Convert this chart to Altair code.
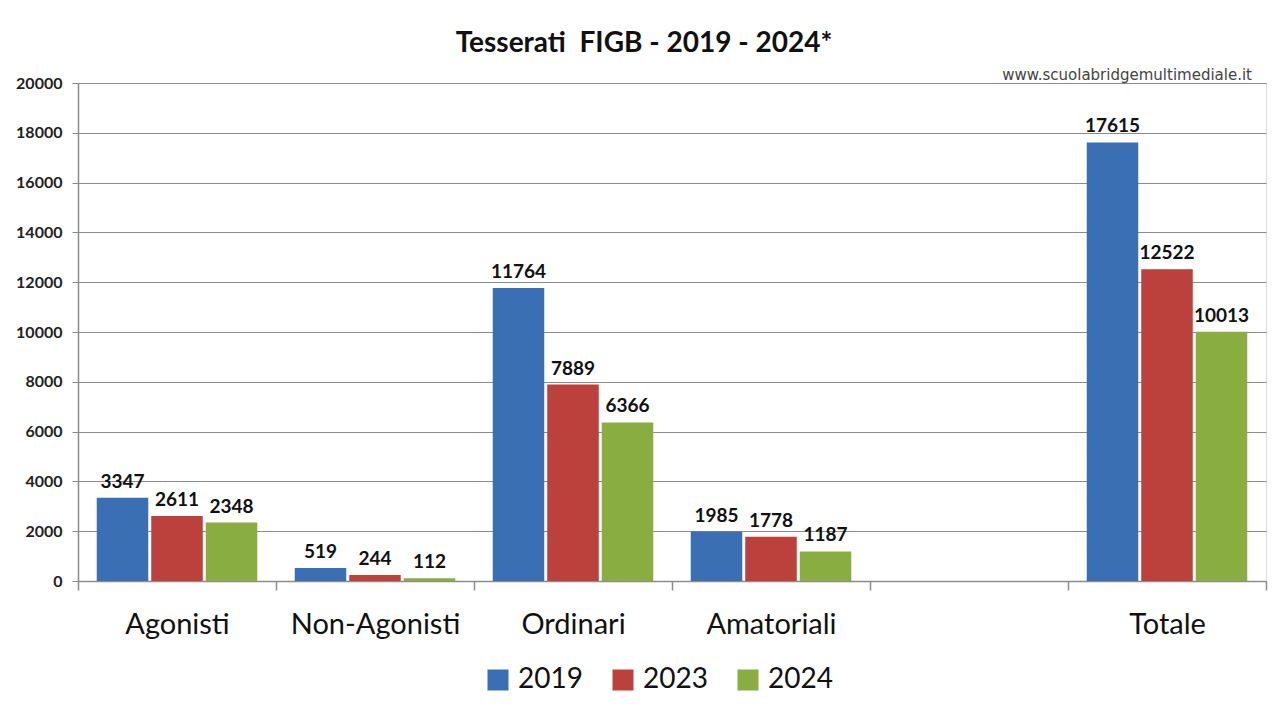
import altair as alt
import pandas as pd

categories = ["Agonisti", "Non-Agonisti", "Ordinari", "Amatoriali", " ", "Totale"]
data_categories = ["Agonisti", "Non-Agonisti", "Ordinari", "Amatoriali", "Totale"]
years = ["2019", "2023", "2024"]
v2019 = [3347, 519, 11764, 1985, 17615]
v2023 = [2611, 244, 7889, 1778, 12522]
v2024 = [2348, 112, 6366, 1187, 10013]
colors = ["#3a70b3", "#bc403c", "#89ad41"]
y_ticks = [0, 2000, 4000, 6000, 8000, 10000, 12000, 14000, 16000, 18000, 20000]

rows = []
for yr, vals in zip(years, [v2019, v2023, v2024]):
    for c, v in zip(data_categories, vals):
        rows.append({"cat": c, "year": yr, "value": v})
df = pd.DataFrame(rows)

W, H = 1188, 498

x = alt.X(
    "cat:N",
    sort=categories,
    scale=alt.Scale(domain=categories, paddingInner=0, paddingOuter=0),
    axis=alt.Axis(
        title=None, labelAngle=0, labelFontSize=29, labelFont="Lato",
        labelColor="#111", labelPadding=20, tickBand="extent", tickSize=9,
        tickColor="#8c8c8c", domainColor="#8c8c8c", tickWidth=1.5, domainWidth=1.5,
        labelLimit=300, grid=False,
    ),
)
xo = alt.XOffset("year:N", scale=alt.Scale(paddingInner=0.055, paddingOuter=0.344))
y = alt.Y(
    "value:Q",
    scale=alt.Scale(domain=[0, 20000], nice=False),
    axis=alt.Axis(
        title=None, values=y_ticks, format="d", labelFontWeight="bold", labelFontSize=16,
        labelFont="Lato", labelColor="#222", gridColor="#8c8c8c", gridWidth=1.2,
        tickColor="#8c8c8c", domainColor="#8c8c8c", tickSize=6, labelPadding=10,
        domainWidth=1.5,
    ),
)
color = alt.Color(
    "year:N",
    scale=alt.Scale(domain=years, range=colors),
    legend=alt.Legend(
        title=None, orient="none", legendX=406, legendY=583, direction="horizontal",
        symbolType="square", symbolSize=441, symbolStrokeWidth=0, labelFontSize=28,
        labelFont="Lato", labelColor="#111", columnPadding=26, labelOffset=6, padding=0,
    ),
)

bars = alt.Chart(df).mark_bar().encode(x=x, xOffset=xo, y=y, color=color)
labels = alt.Chart(df).mark_text(
    dy=-6, baseline="bottom", fontWeight="bold", fontSize=19, font="Lato", color="#111"
).encode(x=x, xOffset=xo, y=y, text=alt.Text("value:Q", format="d"))

wm = alt.Chart(pd.DataFrame({"t": ["www.scuolabridgemultimediale.it"]})).mark_text(
    align="right", baseline="bottom", fontSize=15, font="DejaVu Sans", color="#444"
).encode(x=alt.value(W - 14), y=alt.value(0), text="t:N")

chart = (
    alt.layer(bars, labels, wm)
    .properties(
        width=W, height=H,
        padding={"left": 7, "top": 22, "right": 5, "bottom": 5},
        title=alt.TitleParams(
            "Tesserati\u00a0 FIGB - 2019 - 2024*", fontSize=28, font="Lato",
            fontWeight="bold", color="#111", offset=10, dx=-28, anchor="middle",
        ),
    )
    .configure_view(stroke=None)
    .configure(background="white")
)

chart.save("out.html", embed_options={"renderer": "svg", "actions": False})
